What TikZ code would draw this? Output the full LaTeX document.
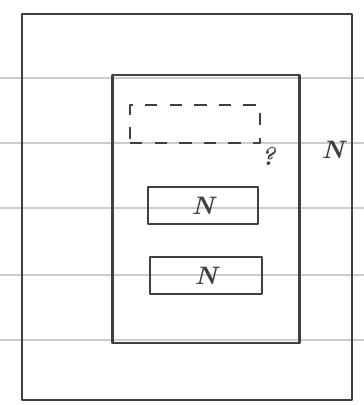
\documentclass[tikz,border=0pt]{standalone}
\usepackage{tikz}
\usetikzlibrary{positioning}

\begin{document}
\begin{tikzpicture}[x=0.02cm, y=-0.02cm, line join=round,
      pen/.style={draw=black!75, line width=1.6pt},
      box/.style={pen, rectangle, inner sep=0pt},
      ghost/.style={draw=black!75, line width=1.6pt, dash pattern=on 7pt off 7pt,
                    rectangle, inner sep=0pt},
      lbl/.style={font=\Large\itshape\bfseries, text=black!75, inner sep=1pt},
      rule/.style={draw=black!20, line width=0.6pt}]

    % page size of the sketch
    \useasboundingbox (0,0) rectangle (364,405);

    % --- ruled paper lines ---
    \foreach \yy in {78, 143, 208, 275, 340}
      \draw[rule] (0,\yy) -- (364,\yy);

    % --- outer frame ---
    \node[box, minimum width=6.6cm, minimum height=7.72cm] (frame) at (187,207) {};

    % --- inner panel ---
    \node[box, minimum width=3.74cm, minimum height=5.36cm] (panel) at (206,209) {};

    % --- slots inside the panel ---
    \node[ghost, minimum width=2.6cm, minimum height=0.76cm] (slot0) at (195,124) {};
    \node[box, minimum width=2.2cm, minimum height=0.74cm] (slot1) at (203,205.5) {};
    \node[box, minimum width=2.24cm, minimum height=0.74cm] (slot2) at (206,275.5) {};

    % --- labels ---
    \node[lbl] (q) at (268,157) {?};
    \node[lbl] (n0) at (333,150) {N};
    \node[lbl] at (slot1) (n1) {N};
    \node[lbl] at (slot2) (n2) {N};

\end{tikzpicture}
\end{document}
